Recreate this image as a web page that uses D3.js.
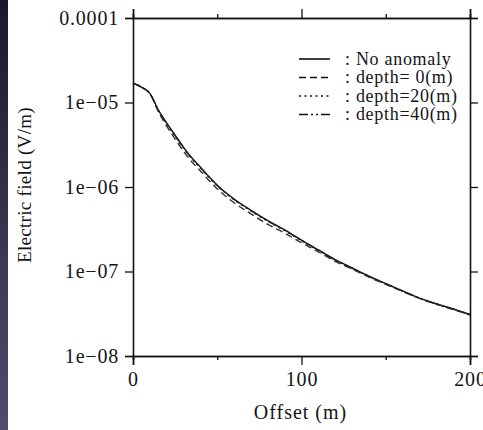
<!DOCTYPE html>
<html lang="en">
<head>
    <meta charset="UTF-8">
    <script src="https://d3js.org/d3.v7.min.js"></script>
    <title>Electric field vs offset</title>
    <style>
        body { margin: 0; background: #fff; }
        text { font-family: "Liberation Serif", "Times New Roman", serif; fill: #151515; }
    </style>
</head>
<body>
<script>
    // Offsets (m)
    const offsets = [0, 5, 10, 15, 20, 25, 30, 35, 40, 45, 50, 60, 70, 80, 90, 100,
                     110, 120, 130, 140, 150, 160, 170, 180, 190, 200];

    // Electric field (V/m) for each case
    const noAnomaly = [1.7e-5, 1.52e-5, 1.28e-5, 8.2e-6, 5.7e-6, 4.1e-6, 2.95e-6, 2.2e-6, 1.72e-6, 1.33e-6, 1.05e-6,
                       7.2e-7, 5.3e-7, 4.0e-7, 3.1e-7, 2.35e-7, 1.8e-7, 1.38e-7, 1.1e-7, 8.8e-8, 7.2e-8,
                       5.9e-8, 4.85e-8, 4.15e-8, 3.6e-8, 3.1e-8];
    const depth0 = [1.7e-5, 1.52e-5, 1.28e-5, 7.8e-6, 5.25e-6, 3.7e-6, 2.65e-6, 1.98e-6, 1.55e-6, 1.2e-6, 0.95e-6,
                    6.5e-7, 4.8e-7, 3.62e-7, 2.85e-7, 2.19e-7, 1.71e-7, 1.32e-7, 1.07e-7, 8.6e-8, 7.05e-8,
                    5.8e-8, 4.8e-8, 4.1e-8, 3.55e-8, 3.05e-8];
    const depth20 = [1.7e-5, 1.52e-5, 1.28e-5, 8.1e-6, 5.6e-6, 4.0e-6, 2.88e-6, 2.15e-6, 1.68e-6, 1.3e-6, 1.03e-6,
                     7.05e-7, 5.2e-7, 3.93e-7, 3.05e-7, 2.31e-7, 1.78e-7, 1.36e-7, 1.09e-7, 8.7e-8, 7.15e-8,
                     5.85e-8, 4.82e-8, 4.12e-8, 3.58e-8, 3.08e-8];
    const depth40 = [1.7e-5, 1.52e-5, 1.28e-5, 8.15e-6, 5.65e-6, 4.05e-6, 2.9e-6, 2.18e-6, 1.7e-6, 1.32e-6, 1.04e-6,
                     7.12e-7, 5.25e-7, 3.97e-7, 3.08e-7, 2.33e-7, 1.79e-7, 1.37e-7, 1.1e-7, 8.75e-8, 7.18e-8,
                     5.88e-8, 4.84e-8, 4.14e-8, 3.6e-8, 3.1e-8];

    const seriesNames = [": No anomaly", ": depth= 0(m)", ": depth=20(m)", ": depth=40(m)"];
    const seriesValues = [noAnomaly, depth0, depth20, depth40];
    const dashes = [null, "7,4", "2,3.5", "9,3,2,3,2,3"];
    const strokes = ["#111", "#333", "#222", "#222"];

    const yTicks = [1e-8, 1e-7, 1e-6, 1e-5, 1e-4];
    const yTickLabels = ["1e\u221208", "1e\u221207", "1e\u221206", "1e\u221205", "0.0001"];
    const xTicks = [0, 100, 200];
    const xMinorTicks = [50, 150];

    const W = 483, H = 430;
    const margin = { top: 18, right: 13, bottom: 74, left: 133 };
    const width = W - margin.left - margin.right;
    const height = H - margin.top - margin.bottom;

    const svg = d3.select("body").append("svg")
        .attr("width", W)
        .attr("height", H);

    // dark strip at the left edge of the picture
    const grad = svg.append("defs").append("linearGradient")
        .attr("id", "edge").attr("x1", 0).attr("y1", 0).attr("x2", 0).attr("y2", 1);
    grad.append("stop").attr("offset", "0%").attr("stop-color", "#1a1830");
    grad.append("stop").attr("offset", "100%").attr("stop-color", "#514c6c");
    svg.append("rect").attr("x", 0).attr("y", 0).attr("width", 8).attr("height", H)
        .attr("fill", "url(#edge)");

    const g = svg.append("g")
        .attr("transform", "translate(" + margin.left + "," + margin.top + ")");

    const x = d3.scaleLinear().domain([0, 200]).range([0, width]);
    const y = d3.scaleLog().domain([1e-8, 1e-4]).range([height, 0]);

    // axes on all four sides, ticks pointing out
    const fmtY = d => yTickLabels[yTicks.indexOf(d)];
    g.append("g")
        .call(d3.axisLeft(y).tickValues(yTicks).tickFormat(fmtY).tickSize(8).tickPadding(6))
        .call(a => a.selectAll("text").style("font-size", "20px").style("letter-spacing", "0.8px"));
    g.append("g").attr("transform", "translate(" + width + ",0)")
        .call(d3.axisRight(y).tickValues(yTicks).tickFormat("").tickSize(8));
    g.append("g").attr("transform", "translate(0," + height + ")")
        .call(d3.axisBottom(x).tickValues(xTicks).tickFormat(d3.format("d")).tickSize(9).tickPadding(7))
        .call(a => a.selectAll("text").style("font-size", "20px").style("letter-spacing", "0.8px"));
    g.append("g").attr("transform", "translate(0," + height + ")")
        .call(d3.axisBottom(x).tickValues(xMinorTicks).tickFormat("").tickSize(4));
    g.append("g")
        .call(d3.axisTop(x).tickValues(xTicks).tickFormat("").tickSize(9));
    g.append("g")
        .call(d3.axisTop(x).tickValues(xMinorTicks).tickFormat("").tickSize(4));

    g.selectAll(".domain").attr("stroke", "#111").attr("stroke-width", 1.6);
    g.selectAll(".tick line").attr("stroke", "#111").attr("stroke-width", 1.3);

    // curves
    const line = d3.line()
        .x((d, i) => x(offsets[i]))
        .y(d => y(d))
        .curve(d3.curveMonotoneX);

    seriesValues.forEach((vals, k) => {
        g.append("path")
            .datum(vals)
            .attr("fill", "none")
            .attr("stroke", strokes[k])
            .attr("stroke-width", 1.4)
            .attr("stroke-dasharray", dashes[k])
            .attr("d", line);
    });

    // legend
    const legend = g.append("g").attr("transform", "translate(166,41)");
    seriesNames.forEach((name, k) => {
        const row = legend.append("g").attr("transform", "translate(0," + (k * 18.5) + ")");
        row.append("line")
            .attr("x1", 0).attr("x2", 31).attr("y1", 0).attr("y2", 0)
            .attr("stroke", "#111").attr("stroke-width", 1.6)
            .attr("stroke-dasharray", dashes[k]);
        row.append("text")
            .attr("x", 46).attr("y", 5.5)
            .style("font-size", "18px")
            .style("letter-spacing", "0.7px")
            .text(name);
    });

    // axis titles
    svg.append("text")
        .attr("x", margin.left + width / 2 - 1)
        .attr("y", 419)
        .attr("text-anchor", "middle")
        .style("font-size", "20px")
        .style("letter-spacing", "1px")
        .text("Offset (m)");

    svg.append("text")
        .attr("transform", "translate(31," + 185 + ") rotate(-90)")
        .attr("text-anchor", "middle")
        .style("font-size", "19px")
        .style("letter-spacing", "0.3px")
        .text("Electric field (V/m)");
</script>
</body>
</html>
